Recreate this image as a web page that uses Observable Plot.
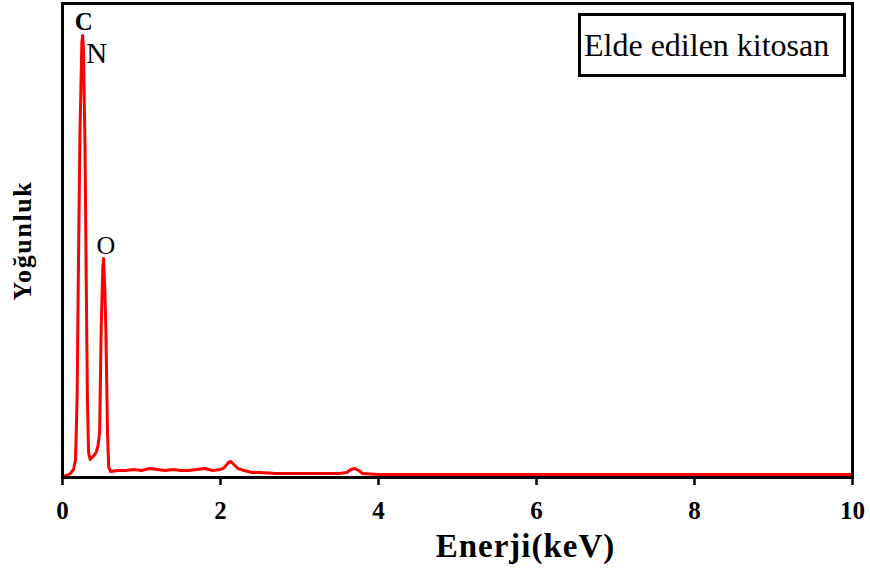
<!DOCTYPE html>
<html>
<head>
<meta charset="utf-8">
<script src="https://cdn.jsdelivr.net/npm/d3@7"></script>
<script src="https://cdn.jsdelivr.net/npm/@observablehq/plot@0.6"></script>
<style>
  html, body { margin: 0; padding: 0; background: #fff; }
  #wrap { position: relative; width: 870px; height: 571px; }
  #legend {
    position: absolute; left: 578px; top: 13px; width: 259px; height: 58px;
    border: 3px solid #000; background: #fff;
    font-family: "Liberation Serif", serif; font-size: 32px; line-height: 58px;
    padding-left: 3px; white-space: nowrap; box-sizing: content-box;
  }
</style>
</head>
<body>
<div id="wrap"><div id="legend">Elde edilen kitosan</div></div>
<script>
// EDS spectrum (energy keV, intensity arbitrary units)
const energy = [0.00,0.05,0.10,0.14,0.165,0.185,0.20,0.22,0.245,0.255,0.265,0.285,0.30,0.315,0.33,0.35,0.37,0.40,0.43,0.45,0.47,0.49,0.51,0.52,0.535,0.55,0.57,0.585,0.61,
  0.70,0.80,0.90,1.00,1.10,1.20,1.30,1.40,1.50,1.60,1.70,1.80,1.90,2.00,2.05,2.10,2.13,2.17,2.22,2.30,2.40,2.50,2.70,3.00,3.30,3.50,3.60,3.65,3.70,3.75,3.80,4.00,4.50,5.00,5.50,6.00,6.50,7.00,7.50,8.00,8.50,9.00,9.50,10.00];
const intensity = [1,2,4,8,18,80,200,340,435,442,430,330,200,80,25,18,20,22,26,32,45,150,210,219,190,144,44,10,6,
  7,7,8,7,9,8,7,8,7,7,8,9,7,8,10,15,16,13,9,7,5,5,4,4,4,4,5,8,9,7,4,3,3,3,3,3,3,3,3,3,3,3,3,3];
const xTicks = [0,2,4,6,8,10];
const peakNames = ["C","N","O"];
const peakEnergy = [0.27,0.30,0.43];
const peakLevel = [448,415,224];
const peakFont = [25,29,26];
const peakWeight = ["bold","normal","normal"];
const xTitle = "Enerji(keV)";
const yTitle = "Yoğunluk";

const spectrum = energy.map((e,i) => ({e, v: intensity[i]}));
const peaks = peakNames.map((n,i) => ({n, e: peakEnergy[i], v: peakLevel[i], s: peakFont[i], w: peakWeight[i]}));

const chart = Plot.plot({
  width: 870, height: 571,
  marginLeft: 62, marginRight: 18, marginTop: 3, marginBottom: 94,
  style: {fontFamily: "Liberation Serif, serif", background: "white", color: "black"},
  x: {domain: [0,10]},
  y: {domain: [0,474]},
  marks: [
    Plot.line(spectrum, {x: "e", y: "v", stroke: "#ff0000", strokeWidth: 3, strokeLinejoin: "round"}),
    Plot.frame({stroke: "black", strokeWidth: 3}),
    Plot.axisX({ticks: xTicks, tickSize: 8, strokeWidth: 2.5, tickPadding: 16, fontSize: 25, fontWeight: "bold", label: null}),
    Plot.axisY({ticks: [], tickSize: 0, label: yTitle, labelArrow: "none", labelAnchor: "center", labelOffset: 50, fontSize: 26, fontWeight: "bold"}),
    Plot.text([xTitle], {x: () => 5.86, frameAnchor: "bottom", dy: 69, text: d => d, fontSize: 33, fontWeight: "bold", lineAnchor: "middle", fill: "black"}),
    Plot.text(peaks.filter(p => p.w === "bold"), {x: "e", y: "v", text: "n", fontSize: 25, fontWeight: "bold", lineAnchor: "bottom", fill: "black"}),
    Plot.text(peaks.filter(p => p.w !== "bold"), {x: "e", y: "v", text: "n", fontSize: "s", textAnchor: "start", lineAnchor: "bottom", fill: "black"})
  ]
});
// tidy axis label text (no arrow) and spacing
d3.select(chart).selectAll("text").each(function() {
  const t = this.textContent;
  if (t.startsWith(yTitle)) { this.textContent = yTitle; d3.select(this).attr("font-weight","bold").attr("font-size",26).style("letter-spacing","1.6px"); }
  if (t === xTitle) d3.select(this).style("letter-spacing","1px");
});
document.getElementById("wrap").prepend(chart);
</script>
</body>
</html>
